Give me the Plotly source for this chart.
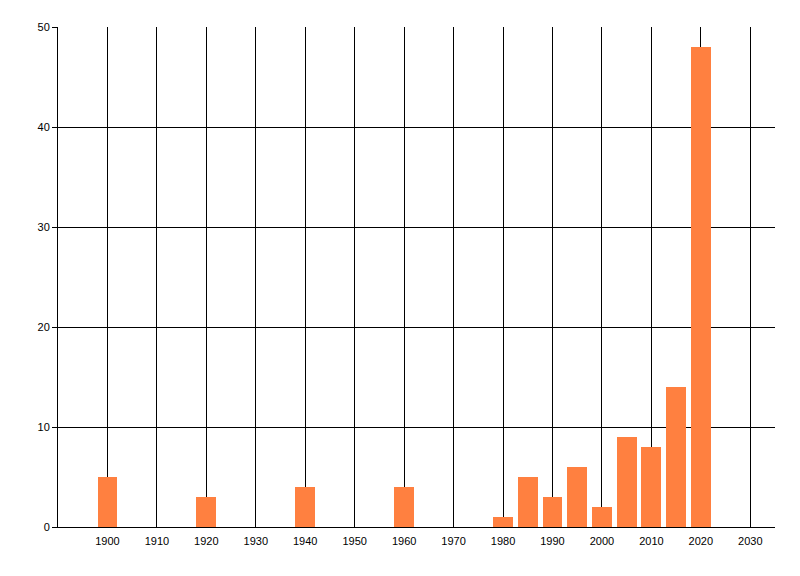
import plotly.graph_objects as go

# year bucket and count
years = [1900, 1920, 1940, 1960, 1980, 1985, 1990, 1995, 2000, 2005, 2010, 2015, 2020]
counts = [5, 3, 4, 4, 1, 5, 3, 6, 2, 9, 8, 14, 48]

x_ticks = list(range(1900, 2031, 10))
y_ticks = [0, 10, 20, 30, 40, 50]

fig = go.Figure(
    go.Bar(
        x=years,
        y=counts,
        width=4,
        marker=dict(color="#FF8040", line=dict(width=0)),
        hoverinfo="x+y",
    )
)

# page body has an 8px margin, so the plot box is shifted back by that
fig.update_layout(
    width=800,
    height=576,
    margin=dict(l=50, r=33, t=19, b=57),
    paper_bgcolor="white",
    plot_bgcolor="white",
    showlegend=False,
    font=dict(family="Liberation Sans, Arial, sans-serif", size=11, color="black"),
    bargap=0,
)
fig.update_xaxes(
    range=[1890, 2035],
    tickvals=x_ticks,
    ticktext=[str(t) for t in x_ticks],
    showgrid=True,
    gridcolor="black",
    gridwidth=1,
    showline=True,
    linecolor="black",
    linewidth=1,
    ticks="",
    zeroline=False,
    ticklabelstandoff=4,
)
fig.update_yaxes(
    range=[0, 50],
    tickvals=y_ticks,
    showgrid=True,
    gridcolor="black",
    gridwidth=1,
    showline=True,
    linecolor="black",
    linewidth=1,
    ticks="outside",
    ticklen=5,
    tickcolor="black",
    zeroline=False,
)

fig.write_html("out.html")
